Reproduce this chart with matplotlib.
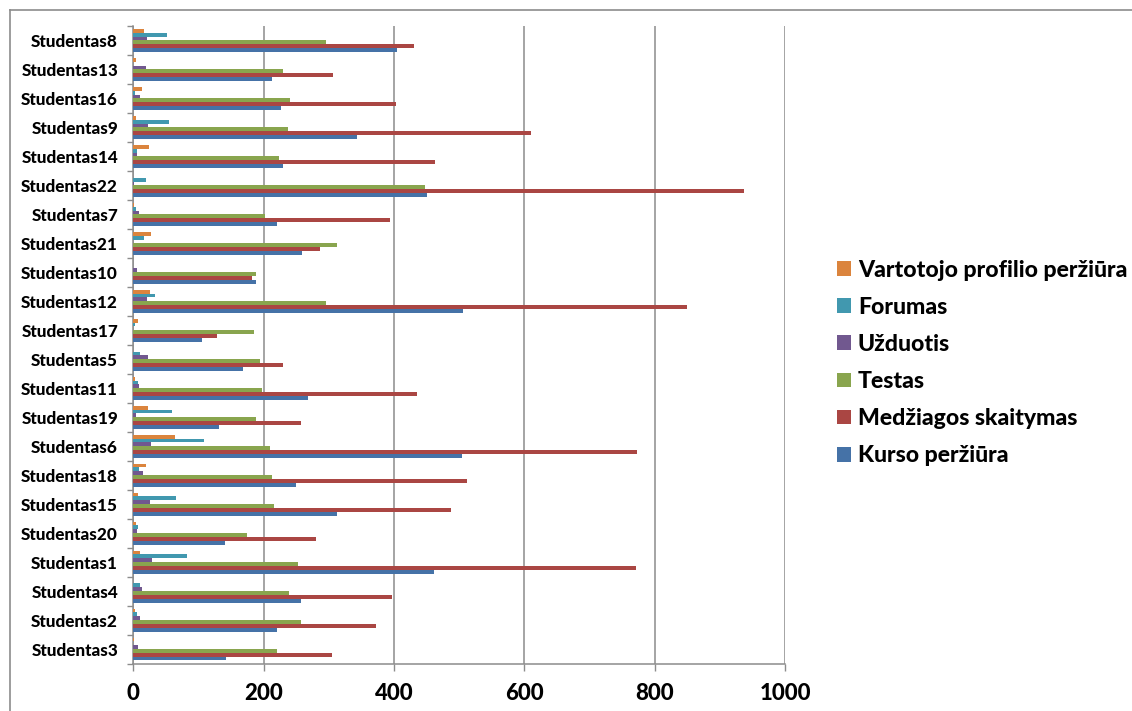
import numpy as np
import matplotlib
matplotlib.use("Agg")
import matplotlib.pyplot as plt
from matplotlib.lines import Line2D
from matplotlib.patches import Patch

plt.rcParams["font.family"] = ["Lato", "DejaVu Sans"]
plt.rcParams["font.weight"] = "black"

# categories, listed bottom -> top
students = ["Studentas3", "Studentas2", "Studentas4", "Studentas1", "Studentas20",
            "Studentas15", "Studentas18", "Studentas6", "Studentas19", "Studentas11",
            "Studentas5", "Studentas17", "Studentas12", "Studentas10", "Studentas21",
            "Studentas7", "Studentas22", "Studentas14", "Studentas9", "Studentas16",
            "Studentas13", "Studentas8"]

kurso = [143, 220, 257, 462, 140, 312, 250, 505, 131, 268,
         168, 106, 506, 188, 259, 220, 450, 230, 344, 227, 213, 404]
medziaga = [305, 372, 397, 771, 280, 487, 512, 773, 257, 435,
            230, 129, 850, 182, 286, 394, 937, 463, 611, 403, 307, 430]
testas = [220, 257, 239, 252, 174, 216, 213, 209, 188, 197,
          194, 185, 295, 188, 312, 202, 448, 224, 237, 241, 230, 295]
uzduotis = [7, 11, 14, 29, 5, 26, 15, 27, 4, 8,
            22, 0, 21, 5, 0, 8, 1, 5, 23, 11, 19, 21]
forumas = [0, 6, 11, 82, 7, 65, 8, 108, 60, 7,
           11, 2, 33, 0, 17, 4, 19, 5, 55, 3, 0, 51]
profilis = [1, 3, 0, 11, 4, 7, 20, 64, 22, 3,
            0, 7, 25, 0, 27, 1, 0, 24, 4, 13, 4, 16]

series = [
    ("Kurso peržiūra", kurso, "#4572A7"),
    ("Medžiagos skaitymas", medziaga, "#AA4643"),
    ("Testas", testas, "#89A54E"),
    ("Užduotis", uzduotis, "#71588F"),
    ("Forumas", forumas, "#4198AF"),
    ("Vartotojo profilio peržiūra", profilis, "#DB843D"),
]

fig = plt.figure(figsize=(11.32, 7.11), dpi=100)
ax = fig.add_axes([133.3 / 1132, 47.5 / 711, (785 - 133.3) / 1132, (685 - 47.5) / 711])

y = np.arange(len(students))
h = 0.132
for i, (name, vals, col) in enumerate(series):
    ax.barh(y + (i - 2.5) * h, vals, height=h, color=col, label=name, zorder=3)

ax.set_xlim(0, 1000)
ax.set_ylim(-0.5, len(students) - 0.5)
ax.set_xticks(np.arange(0, 1001, 200))
ax.set_yticks(y)
ax.set_yticklabels(students, fontsize=12.3, fontweight="black")
ax.set_yticks(np.arange(-0.5, len(students), 1), minor=True)
ax.tick_params(axis="y", which="major", length=0, pad=11)
ax.tick_params(axis="y", which="minor", length=4.5, width=1, color="#8c8c8c", direction="out")
ax.tick_params(axis="x", length=5, width=1, color="#8c8c8c", pad=9, labelsize=16)
for lbl in ax.get_xticklabels():
    lbl.set_fontweight("black")

ax.grid(axis="x", color="#8c8c8c", linewidth=1.1, zorder=0)
for s in ["top", "right"]:
    ax.spines[s].set_visible(False)
for s in ["left", "bottom"]:
    ax.spines[s].set_color("#8c8c8c")
    ax.spines[s].set_linewidth(1.1)

# legend, top -> bottom reversed from drawing order
handles = [Patch(facecolor=c, edgecolor="none") for _, _, c in series][::-1]
labels = [n for n, _, _ in series][::-1]
fig.legend(handles, labels, loc="center left", bbox_to_anchor=(837 / 1132, 1 - 363 / 711),
           frameon=False, prop={"size": 16.6, "weight": "black"},
           handlelength=0.6, handleheight=0.6, handletextpad=0.3, labelspacing=0.7,
           borderaxespad=0, borderpad=0)

# chart border
fig.add_artist(Line2D([10 / 1132, 1], [1 - 9.5 / 711, 1 - 9.5 / 711], color="#8c8c8c", lw=1.2))
fig.add_artist(Line2D([10 / 1132, 10 / 1132], [0, 1 - 9.5 / 711], color="#8c8c8c", lw=1.2))

fig.savefig("out.png", dpi=100)
